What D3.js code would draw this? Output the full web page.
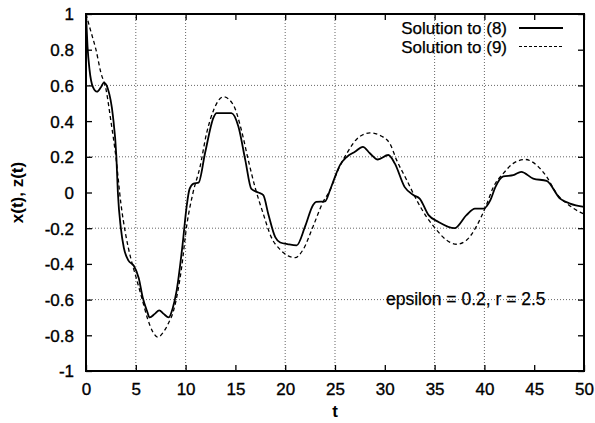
<!DOCTYPE html>
<html>
<head>
<meta charset="utf-8">
<script src="https://cdn.jsdelivr.net/npm/d3@7"></script>
<style>
  html, body { margin: 0; padding: 0; background: #fff; }
  svg text { font-family: "Liberation Sans", Arial, Helvetica, sans-serif; fill: #000; }
</style>
</head>
<body>
<svg id="chart" width="595" height="423"></svg>
<script>
// ---- data ----
const t8 = [0, 0.15, 0.35, 0.7, 1.1, 1.5, 1.8, 2.2, 2.7, 3.05, 3.2, 3.5, 3.8, 4.25, 4.8, 5.3, 5.7, 6.1, 6.4, 6.9, 7.35, 7.8, 8.3, 8.7, 9.1, 9.7, 10.1, 10.4, 10.8, 11.3, 11.95, 12.8, 13.1, 14.6, 15.3, 16.0, 16.6, 17.3, 17.8, 18.3, 19.0, 19.5, 20.3, 21.15, 22.0, 22.8, 23.1, 24.0, 24.5, 25.0, 25.5, 26.2, 27.0, 27.8, 28.5, 29.3, 30.35, 31.0, 32.0, 32.9, 33.5, 34.4, 35.4, 37.0, 38.2, 39.05, 39.9, 40.6, 41.1, 41.9, 42.9, 43.7, 44.9, 46.25, 47.6, 48.6, 50];
const x8 = [1.0, 0.82, 0.69, 0.59, 0.565, 0.59, 0.615, 0.58, 0.43, 0.20, 0.0, -0.2, -0.31, -0.38, -0.41, -0.48, -0.59, -0.66, -0.70, -0.68, -0.66, -0.68, -0.70, -0.65, -0.55, -0.29, -0.08, 0.02, 0.05, 0.055, 0.22, 0.42, 0.445, 0.445, 0.37, 0.18, 0.02, 0.0, -0.015, -0.12, -0.25, -0.28, -0.29, -0.296, -0.19, -0.07, -0.053, -0.05, 0.013, 0.088, 0.153, 0.20, 0.228, 0.256, 0.22, 0.185, 0.21, 0.163, 0.03, -0.015, -0.034, -0.127, -0.165, -0.20, -0.127, -0.09, -0.09, -0.043, 0.03, 0.09, 0.097, 0.116, 0.078, 0.065, -0.034, -0.062, -0.08];

const t9 = [0, 0.5, 1.0, 1.5, 2.0, 2.5, 3.0, 3.5, 4.0, 4.5, 5.0, 5.65, 6.2, 6.7, 7.2, 7.8, 8.3, 8.8, 9.2, 9.6, 10.1, 10.75, 11.45, 12.1, 12.8, 13.8, 14.8, 15.6, 16.3, 16.97, 17.8, 18.6, 19.5, 20.3, 21.0, 21.8, 22.8, 23.8, 24.5, 25.3, 26.2, 27.2, 28.5, 29.85, 30.5, 31.2, 32.2, 33.2, 34.2, 35.2, 36.2, 37.2, 38.2, 39.2, 40.2, 40.9, 41.9, 42.9, 44.1, 45.25, 46.25, 47.25, 48.25, 49.6, 50];
const z9 = [1.0, 0.90, 0.80, 0.67, 0.58, 0.40, 0.20, -0.06, -0.24, -0.37, -0.47, -0.60, -0.71, -0.78, -0.81, -0.78, -0.73, -0.66, -0.56, -0.42, -0.19, 0.0, 0.144, 0.33, 0.46, 0.536, 0.49, 0.35, 0.18, 0.03, -0.12, -0.25, -0.32, -0.355, -0.365, -0.32, -0.19, -0.053, 0.013, 0.125, 0.22, 0.30, 0.334, 0.31, 0.275, 0.18, 0.07, -0.043, -0.137, -0.21, -0.267, -0.29, -0.267, -0.19, -0.07, 0.03, 0.107, 0.163, 0.185, 0.153, 0.088, -0.006, -0.06, -0.11, -0.12];

const xTicks = [0, 5, 10, 15, 20, 25, 30, 35, 40, 45, 50];
const yTicks = [-1, -0.8, -0.6, -0.4, -0.2, 0, 0.2, 0.4, 0.6, 0.8, 1];
const gridX = [5, 10, 20, 25, 35, 40];
const gridY = [-0.6, -0.2, 0.2, 0.6];
const legendLabels = ["Solution to (8)", "Solution to (9)"];
const xLabel = "t";
const yLabel = "x(t), z(t)";
const note = "epsilon = 0.2, r = 2.5";

// ---- layout ----
const svg = d3.select("#chart");
const L = 86, R = 584, T = 14, B = 371;
const x = d3.scaleLinear().domain([0, 50]).range([L, R]);
const y = d3.scaleLinear().domain([-1, 1]).range([B, T]);

// grid
const grid = svg.append("g").attr("stroke", "#666").attr("stroke-width", 1).attr("stroke-dasharray", "1,2");
grid.selectAll("line.gx").data(gridX).join("line").attr("class", "gx")
  .attr("x1", d => x(d)).attr("x2", d => x(d)).attr("y1", T).attr("y2", B);
grid.selectAll("line.gy").data(gridY).join("line").attr("class", "gy")
  .attr("x1", L).attr("x2", R).attr("y1", d => y(d)).attr("y2", d => y(d));

// axes with inward ticks on all sides
const fmt = d => String(+d.toFixed(1));
const gB = svg.append("g").attr("transform", `translate(0,${B})`)
  .call(d3.axisBottom(x).tickValues(xTicks).tickSize(-6).tickFormat(fmt));
const gT = svg.append("g").attr("transform", `translate(0,${T})`)
  .call(d3.axisTop(x).tickValues(xTicks).tickSize(-6).tickFormat(""));
const gL = svg.append("g").attr("transform", `translate(${L},0)`)
  .call(d3.axisLeft(y).tickValues(yTicks).tickSize(-6).tickFormat(fmt));
const gR = svg.append("g").attr("transform", `translate(${R},0)`)
  .call(d3.axisRight(y).tickValues(yTicks).tickSize(-6).tickFormat(""));
[gB, gT, gL, gR].forEach(g => {
  g.select(".domain").remove();
  g.selectAll(".tick line").attr("stroke", "#000").attr("stroke-width", 1.3);
  g.selectAll("text").attr("font-size", 17).attr("font-family", "Liberation Sans, Arial, sans-serif")
    .attr("fill", "#000").attr("stroke", "#000").attr("stroke-width", 0.35);
});
gL.selectAll("text").attr("x", -12).attr("dy", "0.35em");
gB.selectAll("text").attr("dy", "0.71em").attr("y", 12);

// frame
svg.append("rect").attr("x", L).attr("y", T).attr("width", R - L).attr("height", B - T)
  .attr("fill", "none").attr("stroke", "#000").attr("stroke-width", 2);

// curves
const pts8 = t8.map((t, i) => [t, x8[i]]);
const pts9 = t9.map((t, i) => [t, z9[i]]);
const line = d3.line().x(d => x(d[0])).y(d => y(d[1])).curve(d3.curveMonotoneX);
svg.append("path").datum(pts9).attr("d", line).attr("fill", "none")
  .attr("stroke", "#000").attr("stroke-width", 1.3).attr("stroke-dasharray", "4,3");
svg.append("path").datum(pts8).attr("d", line).attr("fill", "none")
  .attr("stroke", "#000").attr("stroke-width", 1.8);

// legend
const leg = svg.append("g");
legendLabels.forEach((lab, i) => {
  const cy = 28 + i * 18.5;
  leg.append("text").attr("x", 507).attr("y", cy + 6).attr("text-anchor", "end")
    .attr("font-size", 17).attr("stroke", "#000").attr("stroke-width", 0.25).text(lab);
  leg.append("line").attr("x1", 519).attr("x2", 563).attr("y1", cy).attr("y2", cy)
    .attr("stroke", "#000").attr("stroke-width", i === 0 ? 1.8 : 1.2)
    .attr("stroke-dasharray", i === 0 ? null : "3,2");
});

// annotation
svg.append("text").attr("x", 386).attr("y", 305).attr("font-size", 17.5)
  .attr("stroke", "#000").attr("stroke-width", 0.25).text(note);

// axis labels
svg.append("text").attr("x", (L + R) / 2).attr("y", 417).attr("text-anchor", "middle")
  .attr("font-size", 17).attr("font-weight", "bold").text(xLabel);
svg.append("text").attr("transform", `translate(23,${(T + B) / 2}) rotate(-90)`)
  .attr("text-anchor", "middle").attr("font-size", 17).attr("font-weight", "bold").text(yLabel);
</script>
</body>
</html>
